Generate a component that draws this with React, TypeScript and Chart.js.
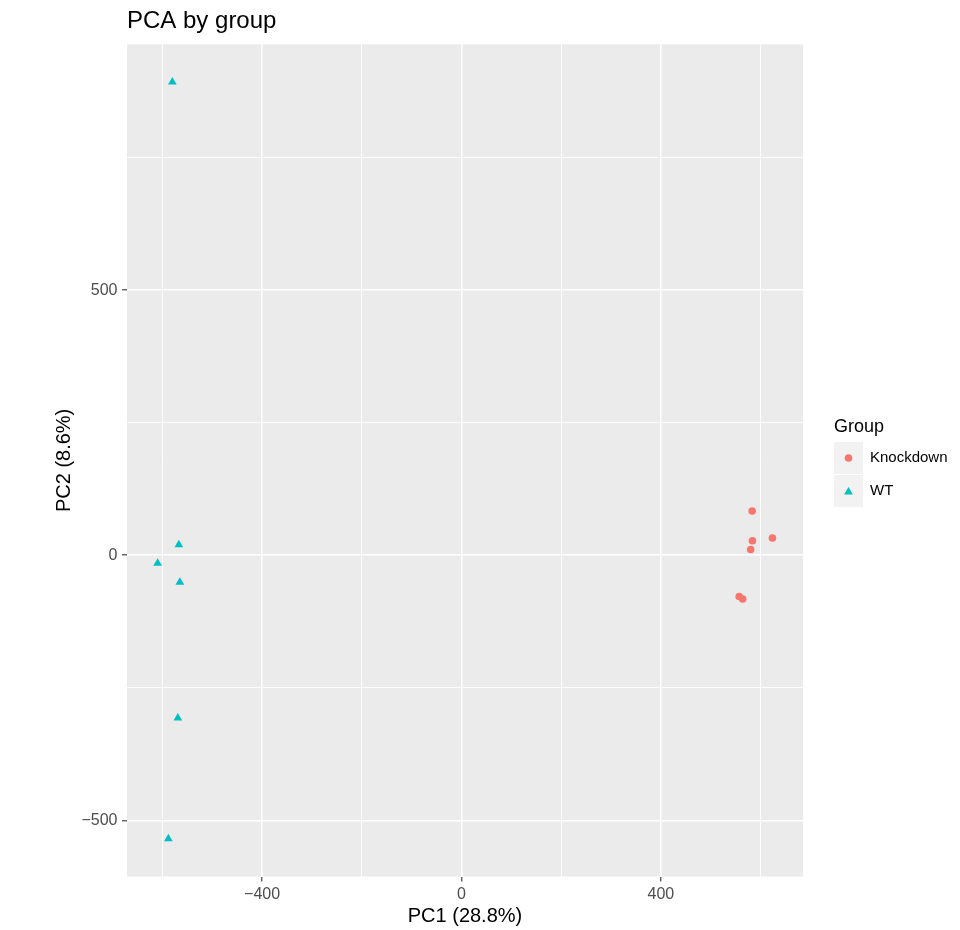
import React, { useEffect, useRef } from "react";
import { Chart, registerables } from "chart.js";

Chart.register(...registerables);

// ---- data ----
const groupNames = ["Knockdown", "WT"];
const knockdownPC1 = [583, 583.5, 623.7, 580, 557, 564];
const knockdownPC2 = [83.4, 27.4, 32.5, 10.9, -77.7, -82.6];
const wtPC1 = [-580, -567, -609.6, -565, -569, -588];
const wtPC2 = [893, 20, -15, -51, -307, -535];

const xMajorTicks = [-400, 0, 400];
const xMinorTicks = [-600, -200, 200, 600];
const yMajorTicks = [-500, 0, 500];
const yMinorTicks = [-250, 250, 750];
const xLimits = [-671, 685];
const yLimits = [-606, 964];

const titleText = "PCA by group";
const xTitle = "PC1 (28.8%)";
const yTitle = "PC2 (8.6%)";
const legendTitle = "Group";

const COLORS = ["#F8766D", "#00BFC4"];
const FONT = "'Liberation Sans', Arial, Helvetica, sans-serif";

const fmt = (v: number) => (v < 0 ? "\u2212" + Math.abs(v) : String(v));

const bgPlugin = {
  id: "panelBg",
  beforeDraw(chart: any) {
    const { ctx, chartArea, width, height } = chart;
    ctx.save();
    ctx.fillStyle = "#FFFFFF";
    ctx.fillRect(0, 0, width, height);
    ctx.fillStyle = "#EBEBEB";
    ctx.fillRect(chartArea.left, chartArea.top, chartArea.right - chartArea.left, chartArea.bottom - chartArea.top);
    ctx.restore();
  },
};

const legendPlugin = {
  id: "ggLegend",
  afterDraw(chart: any) {
    const { ctx } = chart;
    const x0 = 834;
    ctx.save();
    ctx.fillStyle = "#000000";
    ctx.font = `18px ${FONT}`;
    ctx.textBaseline = "alphabetic";
    ctx.textAlign = "left";
    ctx.fillText(legendTitle, x0, 432);
    const boxW = 29;
    const boxH = 32;
    let y = 442;
    chart.data.datasets.forEach((ds: any) => {
      ctx.fillStyle = "#F2F2F2";
      ctx.fillRect(x0, y, boxW, boxH);
      const cx = x0 + boxW / 2;
      const cy = y + boxH / 2;
      ctx.fillStyle = ds.backgroundColor;
      ctx.beginPath();
      if (ds.pointStyle === "triangle") {
        const r = ds.pointRadius;
        for (let i = 0; i < 3; i++) {
          const a = -Math.PI / 2 + (i * 2 * Math.PI) / 3;
          const px = cx + Math.cos(a) * r;
          const py = cy + 1 + Math.sin(a) * r;
          if (i === 0) ctx.moveTo(px, py);
          else ctx.lineTo(px, py);
        }
        ctx.closePath();
      } else {
        ctx.arc(cx, cy, ds.pointRadius, 0, Math.PI * 2);
      }
      ctx.fill();
      ctx.fillStyle = "#000000";
      ctx.font = `15px ${FONT}`;
      ctx.textBaseline = "middle";
      ctx.fillText(ds.label, 870, cy);
      y += boxH + 1;
    });
    ctx.restore();
  },
};

export default function App() {
  const ref = useRef<HTMLCanvasElement | null>(null);

  useEffect(() => {
    if (!ref.current) return;
    const mk = (xs: number[], ys: number[]) => xs.map((x, i) => ({ x, y: ys[i] }));
    const allX = [...xMinorTicks, ...xMajorTicks].sort((a, b) => a - b);
    const allY = [...yMinorTicks, ...yMajorTicks].sort((a, b) => a - b);

    const chart = new Chart(ref.current, {
      type: "scatter",
      data: {
        datasets: [
          {
            label: groupNames[0],
            data: mk(knockdownPC1, knockdownPC2),
            backgroundColor: COLORS[0],
            borderColor: COLORS[0],
            borderWidth: 0,
            pointStyle: "circle",
            pointRadius: 3.8,
          },
          {
            label: groupNames[1],
            data: mk(wtPC1, wtPC2),
            backgroundColor: COLORS[1],
            borderColor: COLORS[1],
            borderWidth: 0,
            pointStyle: "triangle",
            pointRadius: 5,
          },
        ] as any,
      },
      options: {
        animation: false,
        responsive: false,
        events: [],
        layout: { padding: { left: 0, right: 157, top: 0, bottom: 0 } },
        plugins: {
          legend: { display: false },
          tooltip: { enabled: false },
          title: {
            display: true,
            text: titleText,
            align: "start",
            fullSize: false,
            color: "#000000",
            font: { family: FONT, size: 24, weight: "normal", lineHeight: 1.2 },
            padding: { top: 7, bottom: 8.5 },
          },
        },
        scales: {
          x: {
            type: "linear",
            min: xLimits[0],
            max: xLimits[1],
            afterBuildTicks: (s: any) => {
              s.ticks = allX.map((v) => ({ value: v }));
            },
            afterFit: (s: any) => {
              s.height = 53.5;
            },
            border: { display: false },
            grid: {
              color: "#FFFFFF",
              lineWidth: (c: any) => (xMajorTicks.includes(c.tick?.value) ? 1.6 : 0.9),
              drawTicks: true,
              tickLength: 5,
              tickWidth: 1.1,
              tickColor: (c: any) => (xMajorTicks.includes(c.tick?.value) ? "#333333" : "rgba(0,0,0,0)"),
            },
            ticks: {
              autoSkip: false,
              maxRotation: 0,
              padding: 3,
              color: "#4D4D4D",
              font: { family: FONT, size: 16 },
              callback: (v: any) => (xMajorTicks.includes(Number(v)) ? fmt(Number(v)) : ""),
            },
            title: {
              display: true,
              text: xTitle,
              color: "#000000",
              font: { family: FONT, size: 20, lineHeight: 1.2 },
              padding: { top: 0, bottom: 2 },
            },
          },
          y: {
            type: "linear",
            min: yLimits[0],
            max: yLimits[1],
            afterBuildTicks: (s: any) => {
              s.ticks = allY.map((v) => ({ value: v }));
            },
            afterFit: (s: any) => {
              s.width = 127;
            },
            border: { display: false },
            grid: {
              color: "#FFFFFF",
              lineWidth: (c: any) => (yMajorTicks.includes(c.tick?.value) ? 1.6 : 0.9),
              drawTicks: true,
              tickLength: 5,
              tickWidth: 1.1,
              tickColor: (c: any) => (yMajorTicks.includes(c.tick?.value) ? "#333333" : "rgba(0,0,0,0)"),
            },
            ticks: {
              autoSkip: false,
              padding: 4.5,
              color: "#4D4D4D",
              font: { family: FONT, size: 16 },
              callback: (v: any) => (yMajorTicks.includes(Number(v)) ? fmt(Number(v)) : ""),
            },
            title: {
              display: true,
              text: yTitle,
              color: "#000000",
              font: { family: FONT, size: 20, lineHeight: 1.2 },
              padding: { top: 52, bottom: 0 },
            },
          },
        },
      },
      plugins: [bgPlugin, legendPlugin],
    });
    return () => chart.destroy();
  }, []);

  return (
    <div style={{ position: "absolute", left: 0, top: 0, width: 960, height: 930, background: "#FFFFFF" }}>
      <canvas ref={ref} width={960} height={930} style={{ width: 960, height: 930, display: "block" }} />
    </div>
  );
}
